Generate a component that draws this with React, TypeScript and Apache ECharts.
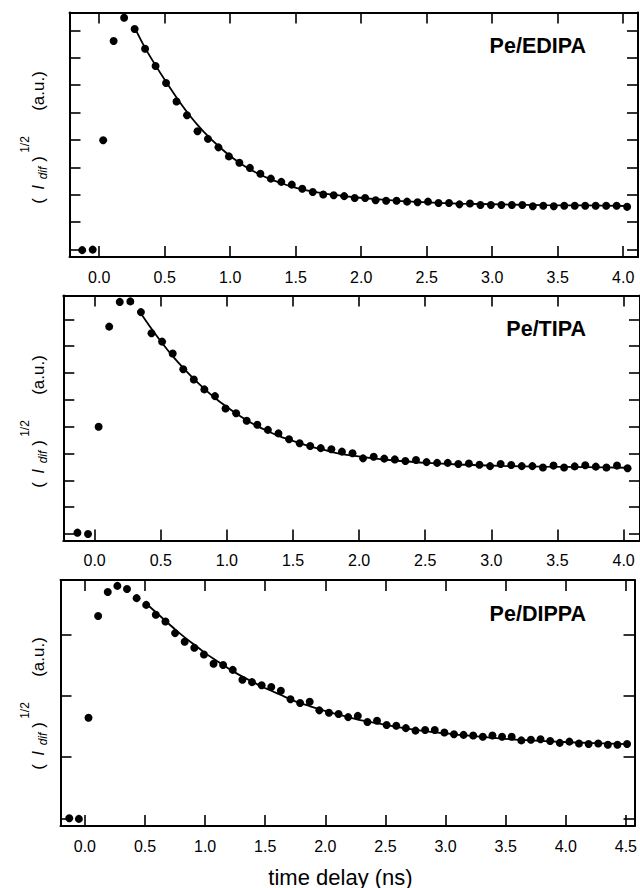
import React, { useEffect, useRef } from "react";
import * as echarts from "echarts";

const FONT = "'Liberation Sans', Arial, Helvetica, sans-serif";

// time delay (ns) of each measured point
const TIME_EDIPA_TIPA = [
  -0.13, -0.05, 0.03, 0.11, 0.19, 0.27, 0.35, 0.43, 0.51, 0.59, 0.67, 0.75, 0.83, 0.91, 0.99,
  1.07, 1.15, 1.23, 1.31, 1.39, 1.47, 1.55, 1.63, 1.71, 1.79, 1.87, 1.95, 2.03, 2.11, 2.19,
  2.27, 2.35, 2.43, 2.51, 2.59, 2.67, 2.75, 2.83, 2.91, 2.99, 3.07, 3.15, 3.23, 3.31, 3.39,
  3.47, 3.55, 3.63, 3.71, 3.79, 3.87, 3.95, 4.03,
];
const TIME_DIPPA = [
  -0.13, -0.05, 0.03, 0.11, 0.19, 0.27, 0.35, 0.43, 0.51, 0.59, 0.67, 0.75, 0.83, 0.91, 0.99,
  1.07, 1.15, 1.23, 1.31, 1.39, 1.47, 1.55, 1.63, 1.71, 1.79, 1.87, 1.95, 2.03, 2.11, 2.19,
  2.27, 2.35, 2.43, 2.51, 2.59, 2.67, 2.75, 2.83, 2.91, 2.99, 3.07, 3.15, 3.23, 3.31, 3.39,
  3.47, 3.55, 3.63, 3.71, 3.79, 3.87, 3.95, 4.03, 4.11, 4.19, 4.27, 4.35, 4.43, 4.51,
];

// (I_dif)^1/2 in tick units
const SIGNAL_EDIPA = [
  -0.02, 0.0, 3.99, 7.61, 8.46, 8.05, 7.33, 6.7, 6.08, 5.4, 4.9, 4.32, 4.04, 3.73, 3.4,
  3.17, 2.98, 2.77, 2.59, 2.47, 2.37, 2.22, 2.1, 2.01, 1.98, 1.95, 1.88, 1.88, 1.8, 1.78,
  1.78, 1.75, 1.73, 1.75, 1.7, 1.7, 1.65, 1.68, 1.63, 1.63, 1.63, 1.63, 1.63, 1.58, 1.6,
  1.58, 1.6, 1.6, 1.6, 1.6, 1.6, 1.6, 1.56,
];
const SIGNAL_TIPA = [
  0.05, 0.0, 4.0, 7.73, 8.65, 8.67, 8.27, 7.48, 7.17, 6.73, 6.14, 5.76, 5.39, 5.14, 4.68,
  4.5, 4.22, 4.07, 3.88, 3.75, 3.53, 3.38, 3.28, 3.2, 3.16, 3.07, 3.01, 2.82, 2.88, 2.81,
  2.78, 2.72, 2.76, 2.68, 2.65, 2.65, 2.61, 2.63, 2.58, 2.53, 2.61, 2.57, 2.53, 2.53, 2.48,
  2.55, 2.48, 2.52, 2.56, 2.51, 2.48, 2.55, 2.45,
];
const SIGNAL_DIPPA = [
  0.0, -0.01, 1.64, 3.3, 3.69, 3.79, 3.74, 3.59, 3.48, 3.32, 3.21, 3.02, 2.88, 2.78, 2.67,
  2.52, 2.5, 2.42, 2.26, 2.22, 2.17, 2.14, 2.08, 1.94, 1.88, 1.9, 1.76, 1.72, 1.7, 1.65,
  1.67, 1.57, 1.59, 1.52, 1.51, 1.47, 1.43, 1.44, 1.44, 1.4, 1.37, 1.36, 1.35, 1.33, 1.35,
  1.33, 1.33, 1.27, 1.28, 1.29, 1.26, 1.23, 1.25, 1.22, 1.21, 1.22, 1.2, 1.2, 1.21,
];

// fitted curves
const FIT_EDIPA_T = [0.27, 0.35, 0.43, 0.51, 0.59, 0.67, 0.75, 0.83, 0.91, 0.99, 1.07, 1.15, 1.23, 1.31, 1.39, 1.47, 1.55, 1.63, 1.71, 1.79, 1.87, 1.95, 2.11, 2.27, 2.51, 2.75, 3.07, 3.39, 3.71, 4.03];
const FIT_EDIPA_Y = [8.1, 7.36, 6.72, 6.12, 5.55, 5.02, 4.55, 4.14, 3.78, 3.45, 3.17, 2.93, 2.73, 2.56, 2.42, 2.3, 2.2, 2.12, 2.05, 2.0, 1.95, 1.91, 1.84, 1.78, 1.72, 1.68, 1.65, 1.62, 1.61, 1.59];
const FIT_TIPA_T = [0.35, 0.43, 0.51, 0.59, 0.67, 0.75, 0.83, 0.91, 0.99, 1.07, 1.15, 1.23, 1.31, 1.39, 1.47, 1.55, 1.63, 1.71, 1.79, 1.87, 1.95, 2.11, 2.27, 2.51, 2.75, 3.07, 3.39, 3.71, 4.03];
const FIT_TIPA_Y = [8.22, 7.65, 7.12, 6.63, 6.19, 5.78, 5.41, 5.07, 4.77, 4.49, 4.24, 4.02, 3.83, 3.66, 3.52, 3.39, 3.27, 3.16, 3.06, 2.98, 2.92, 2.82, 2.74, 2.65, 2.59, 2.54, 2.51, 2.49, 2.47];
const FIT_DIPPA_T = [0.51, 0.59, 0.67, 0.75, 0.83, 0.91, 0.99, 1.07, 1.15, 1.23, 1.31, 1.39, 1.47, 1.55, 1.63, 1.71, 1.79, 1.87, 1.95, 2.11, 2.27, 2.43, 2.59, 2.75, 2.91, 3.07, 3.39, 3.71, 4.03, 4.51];
const FIT_DIPPA_Y = [3.5, 3.36, 3.22, 3.08, 2.95, 2.83, 2.71, 2.6, 2.5, 2.4, 2.31, 2.23, 2.15, 2.08, 2.01, 1.94, 1.88, 1.83, 1.78, 1.69, 1.61, 1.55, 1.49, 1.44, 1.4, 1.37, 1.31, 1.27, 1.24, 1.21];

const X_TICKS_AB = [0, 0.5, 1.0, 1.5, 2.0, 2.5, 3.0, 3.5, 4.0];
const X_TICKS_C = [0, 0.5, 1.0, 1.5, 2.0, 2.5, 3.0, 3.5, 4.0, 4.5];
const Y_TICKS_AB = [0, 1, 2, 3, 4, 5, 6, 7, 8];
const Y_TICKS_C = [0, 1, 2, 3];

const TITLES = ["Pe/EDIPA", "Pe/TIPA", "Pe/DIPPA"];
const X_TITLE = "time delay (ns)";

// y-axis title pieces: text, font, column x, offset along the axis from the label centre
const Y_TITLE_PARTS = [
  { text: "(", font: `17px ${FONT}`, x: 38, dy: 61 },
  { text: "I", font: `italic 17px ${FONT}`, x: 38, dy: 47.5 },
  { text: "dif", font: `italic 12px ${FONT}`, x: 42.5, dy: 33 },
  { text: ")", font: `17px ${FONT}`, x: 38, dy: 19 },
  { text: "1/2", font: `12px ${FONT}`, x: 24.5, dy: 4.5 },
  { text: "(a.u.)", font: `17px ${FONT}`, x: 38, dy: -49 },
];

const PANELS = [
  { title: TITLES[0], t: TIME_EDIPA_TIPA, y: SIGNAL_EDIPA, ft: FIT_EDIPA_T, fy: FIT_EDIPA_Y, xt: X_TICKS_AB, yt: Y_TICKS_AB,
    grid: { left: 69.5, top: 12.5, width: 568.5, height: 244.5 }, xmin: -0.227, xmax: 4.113, ymin: -0.27, ymax: 8.65 },
  { title: TITLES[1], t: TIME_EDIPA_TIPA, y: SIGNAL_TIPA, ft: FIT_TIPA_T, fy: FIT_TIPA_Y, xt: X_TICKS_AB, yt: Y_TICKS_AB,
    grid: { left: 63.3, top: 295.5, width: 577, height: 245 }, xmin: -0.237, xmax: 4.124, ymin: -0.242, ymax: 8.889 },
  { title: TITLES[2], t: TIME_DIPPA, y: SIGNAL_DIPPA, ft: FIT_DIPPA_T, fy: FIT_DIPPA_Y, xt: X_TICKS_C, yt: Y_TICKS_C,
    grid: { left: 60.5, top: 580, width: 577.3, height: 246 }, xmin: -0.203, xmax: 4.572, ymin: -0.126, ymax: 3.886 },
];

const TITLE_Y = [46, 329, 614];
const YLABEL_Y = [140, 424, 706];

function buildOption() {
  const grids: any[] = [];
  const xAxes: any[] = [];
  const yAxes: any[] = [];
  const series: any[] = [];
  const graphic: any[] = [];
  const axisLine = { show: true, onZero: false, lineStyle: { color: "#000", width: 2 } };
  const tick = (vals: number[]) => ({
    show: true, inside: true, length: 11, customValues: vals,
    lineStyle: { color: "#000", width: 1.6 },
  });
  PANELS.forEach((p, i) => {
    grids.push({ ...p.grid, containLabel: false });
    xAxes.push({
      type: "value", gridIndex: i, position: "bottom", min: p.xmin, max: p.xmax,
      axisLine, axisTick: tick(p.xt), splitLine: { show: false },
      axisLabel: {
        show: true, customValues: p.xt, formatter: (v: number) => v.toFixed(1),
        fontSize: 16, color: "#000", fontFamily: FONT, margin: 12,
      },
    });
    xAxes.push({
      type: "value", gridIndex: i, position: "top", min: p.xmin, max: p.xmax,
      axisLine, axisTick: tick(p.xt), splitLine: { show: false }, axisLabel: { show: false },
    });
    yAxes.push({
      type: "value", gridIndex: i, position: "left", min: p.ymin, max: p.ymax,
      axisLine, axisTick: tick(p.yt), splitLine: { show: false }, axisLabel: { show: false },
    });
    yAxes.push({
      type: "value", gridIndex: i, position: "right", min: p.ymin, max: p.ymax,
      axisLine, axisTick: tick(p.yt), splitLine: { show: false }, axisLabel: { show: false },
    });
    series.push({
      type: "line", xAxisIndex: 2 * i, yAxisIndex: 2 * i,
      data: p.ft.map((t, k) => [t, p.fy[k]]),
      showSymbol: false, symbol: "none", smooth: 0.3,
      lineStyle: { color: "#000", width: 1.8 }, silent: true,
    });
    series.push({
      type: "scatter", xAxisIndex: 2 * i, yAxisIndex: 2 * i,
      data: p.t.map((t, k) => [t, p.y[k]]),
      symbol: "circle", symbolSize: 8, itemStyle: { color: "#000", opacity: 1 }, silent: true,
    });
    graphic.push({
      type: "text", x: 586, y: TITLE_Y[i],
      style: {
        text: p.title, font: `bold 21.5px ${FONT}`, fill: "#000",
        align: "right", verticalAlign: "middle",
      },
    });
    Y_TITLE_PARTS.forEach((part) => {
      graphic.push({
        type: "text", x: part.x, y: YLABEL_Y[i] + part.dy, rotation: Math.PI / 2,
        style: { text: part.text, font: part.font, fill: "#000", align: "center", verticalAlign: "middle" },
      });
    });
  });
  graphic.push({
    type: "text", x: 340.5, y: 877,
    style: { text: X_TITLE, font: `22px ${FONT}`, fill: "#000", align: "center", verticalAlign: "middle" },
  });
  return { animation: false, backgroundColor: "#fff", grid: grids, xAxis: xAxes, yAxis: yAxes, series, graphic };
}

export default function App() {
  const ref = useRef<HTMLDivElement>(null);
  useEffect(() => {
    if (!ref.current) return;
    const chart = echarts.init(ref.current, null, { renderer: "svg" });
    chart.setOption(buildOption());
    return () => chart.dispose();
  }, []);
  return (
    <div
      ref={ref}
      style={{ position: "absolute", left: 0, top: 0, width: 640, height: 888, background: "#fff" }}
    />
  );
}
